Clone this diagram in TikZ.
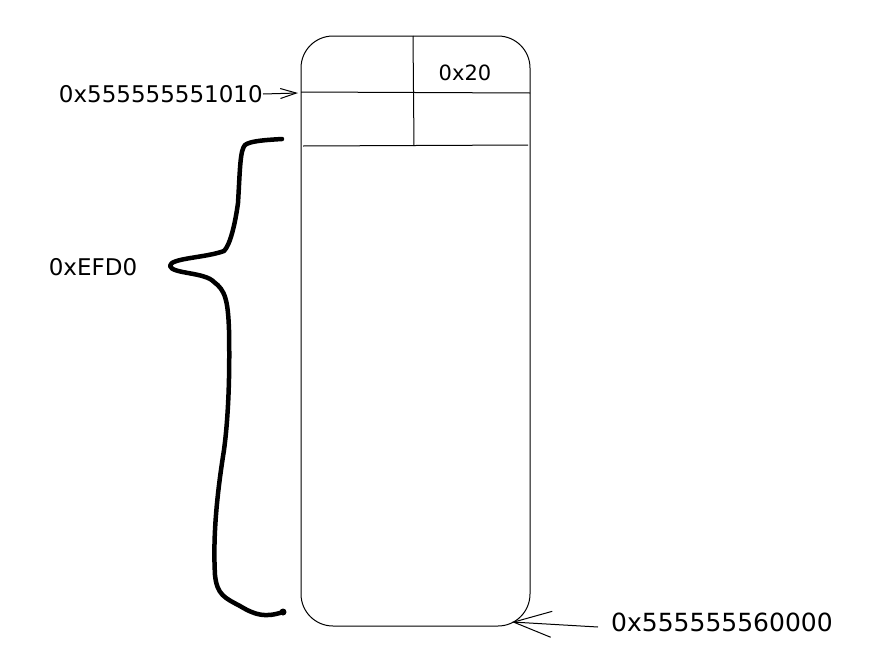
\documentclass[tikz,border=0pt]{standalone}
\usepackage{fontspec}
\setmainfont{DejaVu Sans}
\usetikzlibrary{arrows.meta}
\begin{document}
\begin{tikzpicture}[x=1pt,y=-1pt,
  thin line/.style={line width=1pt,black},
  lbl/.style={inner sep=0pt,anchor=center},
  brace line/.style={line width=4.5pt,line cap=round,line join=round},
  openarrow/.style={-{Straight Barb[length=16pt,width=10pt,line width=1pt]}}]
\useasboundingbox (0,0) rectangle (881,672);
% main box
\draw[thin line,rounded corners=32pt] (301,36) rectangle (530,626);
\coordinate (boxleft) at (298,93);
\coordinate (boxbottom) at (512,622);
\draw[thin line] (301,92) -- (530,93);
\draw[thin line] (303,146) -- (528,145);
\draw[thin line] (413,36) -- (414,146);
\node[lbl,font=\fontsize{21}{25}\selectfont] (sz) at (465,73) {0x20};
% top address
\node[lbl,font=\fontsize{23}{27}\selectfont,anchor=east] (top) at (263,94) {0x555555551010};
\draw[thin line,openarrow] (top.east) -- (boxleft);
% bottom address
\node[lbl,font=\fontsize{25}{29}\selectfont,anchor=west] (bot) at (611,622) {0x555555560000};
\draw[thin line,-{Straight Barb[length=38pt,width=26pt,line width=1pt]}] (bot.west) ++(-13,5) coordinate (bs) -- (boxbottom);
% brace
\draw[brace line] (282,139) .. controls (265,140) and (250,141) .. (245,145)
  .. controls (240,150) and (240,170) .. (238,203)
  .. controls (235,225) and (230,245) .. (224,251)
  .. controls (205,258) and (170,258) .. (170,266)
  .. controls (172,274) and (205,272) .. (214,282)
  .. controls (225,290) and (228,300) .. (229,330)
  .. controls (230,380) and (228,420) .. (224,450)
  .. controls (216,500) and (213,540) .. (215,575)
  .. controls (217,595) and (225,598) .. (240,606)
  .. controls (255,615) and (265,618) .. (283,612);
\fill (283,612) circle (3.5pt);
\node[lbl,font=\fontsize{23}{27}\selectfont] (size) at (93,267) {0xEFD0};
\end{tikzpicture}
\end{document}
